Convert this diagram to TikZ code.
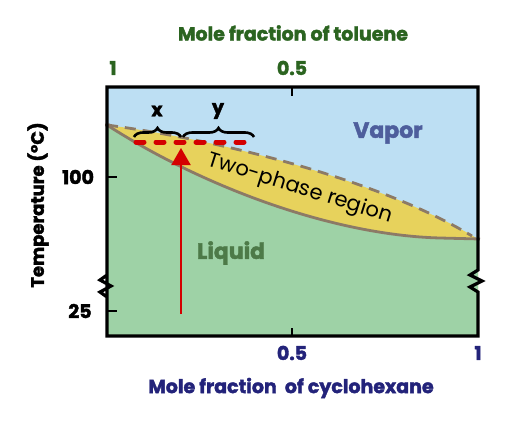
\documentclass[tikz,border=0pt]{standalone}
\usepackage{fontspec}
\setmainfont{Poppins}[BoldFeatures={FakeBold=2}]
\usetikzlibrary{arrows.meta,decorations.pathreplacing}
\definecolor{vaporblue}{HTML}{BDDFF3}
\definecolor{twophase}{HTML}{E7D25C}
\definecolor{liquidgreen}{HTML}{9ED2A6}
\definecolor{curvebrown}{HTML}{8C7A66}
\definecolor{toluenegreen}{HTML}{2B6420}
\definecolor{hexanenavy}{HTML}{23237A}
\definecolor{vaportext}{HTML}{4E5E9C}
\definecolor{liquidtext}{HTML}{4D7A48}
\definecolor{pathred}{HTML}{D40000}
\begin{document}
\begin{tikzpicture}[x=1pt, y=-1pt, every node/.style={font=\bfseries\fontsize{19}{21}\selectfont}]
    % Styles
    \tikzstyle{ticklabel} = [inner sep=0pt, anchor=center]
    \tikzstyle{axistitle} = [inner sep=0pt, font=\bfseries\fontsize{19}{21}\selectfont]
    \tikzstyle{phase} = [inner sep=0pt, font=\bfseries\fontsize{22}{24}\selectfont]
    \tikzstyle{border} = [line width=3.2pt, line join=miter]
    \tikzstyle{curve} = [curvebrown, line width=2.8pt]
    \tikzstyle{brace} = [decorate, decoration={brace, amplitude=9pt}, line width=2.6pt]
    \tikzstyle{arrow} = [pathred, line width=2pt, -{Triangle[width=19pt,length=17pt]}]
    \useasboundingbox (0,0) rectangle (512,424);

    % Regions
    \fill [vaporblue] (107,87) rectangle (478,336);
    \fill [twophase] (107,125) .. controls (220,140) and (380,180) .. (478,239) -- (478,336) -- (107,336) -- cycle;
    \fill [liquidgreen] (107,125) .. controls (200,185) and (330,235) .. (440,238) -- (478,239) -- (478,336) -- (107,336) -- cycle;
    \draw [curve, dash pattern=on 11pt off 7pt] (107,125) .. controls (220,140) and (380,180) .. (472,236);
    \draw [curve] (105,125) -- (110,125) (107,125) .. controls (200,185) and (330,235) .. (440,238) -- (480,239);

    % Border with breaks
    \draw [border] (107,297) -- (107,87) -- (478,87) -- (478,270) -- (470,275) -- (482,281) -- (470,287) -- (478,292)
        -- (478,336) -- (107,336) -- (107,297) -- (100,292) -- (111,286) -- (100,280) -- (107,275);
    \draw [line width=2.2pt] (292,87) -- (292,96);
    \draw [line width=2.2pt] (292,336) -- (292,328);
    \draw [line width=2.2pt] (107,177) -- (117,177);
    \draw [line width=2.2pt] (107,311) -- (117,311);

    % Nodes
    \node (toptitle) [axistitle, toluenegreen] at (293,33) {Mole fraction of toluene};
    \node (topone) [ticklabel, toluenegreen] at (113,68) {1};
    \node (tophalf) [ticklabel, toluenegreen] at (292,68) {0.5};
    \node (bottitle) [axistitle, hexanenavy] at (291,388) {Mole fraction\ \ of cyclohexane};
    \node (bothalf) [ticklabel, hexanenavy] at (292,353) {0.5};
    \node (botone) [ticklabel, hexanenavy] at (478,353) {1};
    \node (temptitle) [axistitle, rotate=90, font=\bfseries\fontsize{18}{20}\selectfont] at (38,205) {Temperature (\textdegree C)};
    \node (hundred) [ticklabel] at (78,177) {100};
    \node (quarter) [ticklabel] at (80,311) {25};
    \node (vapor) [phase, vaportext] at (388,133) {Vapor};
    \node (liquid) [phase, liquidtext] at (231,253) {Liquid};
    \node (twophaselbl) [inner sep=0pt, rotate=-17.5, font=\fontsize{21}{23}\selectfont] at (300,189) {Two-phase region};
    \node (xlbl) [ticklabel] at (157,111) {x};
    \node (ylbl) [ticklabel] at (218,111) {y};

    % Tie line and heating path
    \coordinate (tieleft) at (136,142);
    \coordinate (tieright) at (252,142);
    \coordinate (pathstart) at (181,314);
    \coordinate (pathend) at (181,148);
    \draw [brace] (134,137) -- (181,137);
    \draw [brace] (183,137) -- (254,137);
    \draw [pathred, line width=5pt, line cap=round, dash pattern=on 8pt off 12pt] (tieleft) -- (tieright);
    \draw [arrow] (pathstart) -- (pathend);
\end{tikzpicture}
\end{document}
